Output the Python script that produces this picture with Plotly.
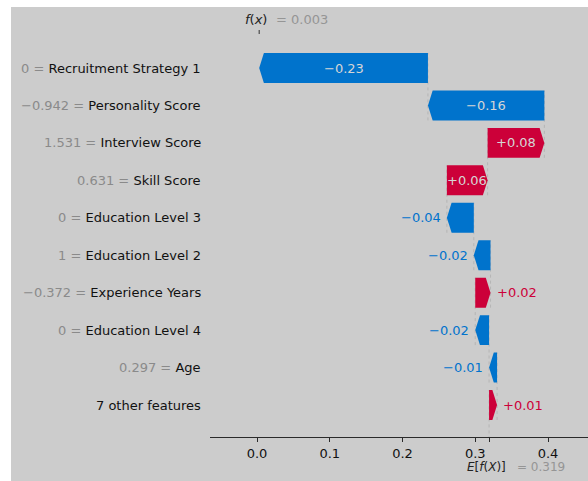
import plotly.graph_objects as go

# SHAP waterfall data (top row first)
features = ["Recruitment Strategy 1", "Personality Score", "Interview Score", "Skill Score",
            "Education Level 3", "Education Level 2", "Experience Years", "Education Level 4",
            "Age", "7 other features"]
feature_values = ["0", "\u22120.942", "1.531", "0.631", "0", "1", "\u22120.372", "0", "0.297", None]
shap_values = [-0.232, -0.160, 0.078, 0.056, -0.037, -0.023, 0.021, -0.019, -0.011, 0.011]
base_value = 0.319
x_ticks = [0.0, 0.1, 0.2, 0.3, 0.4]
x_tick_labels = ["0.0", "0.1", "0.2", "0.3", "0.4"]

W, H = 588, 481
L, R, T, B = 210, 0, 34, 44
PW, PH = W - L - R, H - T - B
PX_PER_UNIT = 727.5
X_RANGE = [-47 / PX_PER_UNIT, (PW - 47) / PX_PER_UNIT]
ROW_PX = 37.44
Y_RANGE = [-32 / ROW_PX, (len(features) - 1) + 34 / ROW_PX]

BLUE = "#0073cc"
RED = "#cc0039"
BG = "#cccccc"
FONT = "DejaVu Sans"
FS = 13

n = len(features)
rows = [n - 1 - i for i in range(n)]
fx = base_value + sum(shap_values)

# accumulate from the bottom row upwards, starting at the base value
starts = [0.0] * n
ends = [0.0] * n
loc = base_value
for i in reversed(range(n)):
    starts[i] = loc
    loc += shap_values[i]
    ends[i] = loc

fig = go.Figure()

bar_h = 0.8
head_len = 0.0065
for i in range(n):
    v = shap_values[i]
    s, e, y = starts[i], ends[i], rows[i]
    sign = 1 if v >= 0 else -1
    hl = min(abs(v), head_len)
    neck = e - sign * hl
    xs = [s, neck, e, neck, s, s]
    ys = [y - bar_h / 2, y - bar_h / 2, y, y + bar_h / 2, y + bar_h / 2, y - bar_h / 2]
    fig.add_trace(go.Scatter(x=xs, y=ys, mode="lines", fill="toself",
                             fillcolor=RED if v >= 0 else BLUE,
                             line=dict(width=0, color=RED if v >= 0 else BLUE),
                             hoverinfo="skip", showlegend=False))

# dashed connectors between consecutive bars
for i in range(n):
    fig.add_shape(type="line", xref="x", yref="y", x0=starts[i], x1=starts[i],
                  y0=rows[i] - 1 - 0.4, y1=rows[i] + 0.4,
                  line=dict(color="#a6a6a6", width=0.6, dash="dot"), layer="below")

# value labels on/next to the bars
for i in range(n):
    v = shap_values[i]
    txt = ("%+0.02f" % v).replace("-", "\u2212")
    bar_px = abs(v) * PX_PER_UNIT
    col = RED if v >= 0 else BLUE
    if bar_px > 40:
        fig.add_annotation(x=(starts[i] + ends[i]) / 2, y=rows[i], text=txt, showarrow=False,
                           xanchor="center", yanchor="middle",
                           font=dict(family=FONT, size=FS, color="#d6d6d6"))
    elif v < 0:
        fig.add_annotation(x=ends[i], y=rows[i], text=txt, showarrow=False,
                           xanchor="right", yanchor="middle", xshift=-4,
                           font=dict(family=FONT, size=FS, color=col))
    else:
        fig.add_annotation(x=ends[i], y=rows[i], text=txt, showarrow=False,
                           xanchor="left", yanchor="middle", xshift=4,
                           font=dict(family=FONT, size=FS, color=col))

# feature names with their values
for i in range(n):
    if feature_values[i] is None:
        label = features[i]
    else:
        label = "<span style='color:#8a8a8a'>%s = </span>%s" % (feature_values[i], features[i])
    fig.add_annotation(xref="paper", x=0, y=rows[i], text=label, showarrow=False,
                       xanchor="right", yanchor="middle", xshift=-7,
                       font=dict(family=FONT, size=FS, color="#111111"))

# f(x) marker at top
fig.add_shape(type="line", xref="x", yref="paper", x0=fx, x1=fx, y0=1.0, y1=1.0 + 4 / PH,
              line=dict(color="#333333", width=1))
fig.add_annotation(x=fx, xref="x", yref="paper", y=1 + 14 / PH, text="<i>f</i>(<i>x</i>)",
                   showarrow=False, xanchor="right", yanchor="middle", xshift=10,
                   font=dict(family=FONT, size=FS, color="#222222"))
fig.add_annotation(x=fx, xref="x", yref="paper", y=1 + 14 / PH,
                   text="= %0.03f" % fx, showarrow=False, xanchor="left", yanchor="middle",
                   xshift=15, font=dict(family=FONT, size=FS, color="#959595"))

# E[f(X)] label under the axis
fig.add_annotation(x=base_value, xref="x", yref="paper", y=-30 / PH,
                   text="<i>E</i>[<i>f</i>(<i>X</i>)]", showarrow=False,
                   xanchor="right", yanchor="middle", xshift=19,
                   font=dict(family=FONT, size=12, color="#222222"))
fig.add_annotation(x=base_value, xref="x", yref="paper", y=-30 / PH,
                   text="= %0.03f" % base_value, showarrow=False,
                   xanchor="left", yanchor="middle", xshift=26,
                   font=dict(family=FONT, size=12, color="#959595"))

# gray panel behind everything
fig.add_shape(type="rect", xref="paper", yref="paper",
              x0=(11 - L) / PW, x1=1.0, y0=-(B + 5) / PH, y1=1 + (T - 7) / PH,
              fillcolor=BG, line=dict(width=0), layer="below")

fig.update_layout(
    width=W, height=H,
    margin=dict(l=L, r=R, t=T, b=B, pad=0),
    paper_bgcolor="white", plot_bgcolor="rgba(0,0,0,0)",
    showlegend=False,
    xaxis=dict(range=X_RANGE, tickvals=x_ticks + [base_value], ticktext=x_tick_labels + [""],
               showgrid=False, zeroline=False, showline=True, linecolor="#2a2a2a", linewidth=1,
               ticks="outside", ticklen=4, tickcolor="#2a2a2a",
               tickfont=dict(family=FONT, size=FS, color="#111111")),
    yaxis=dict(range=Y_RANGE, showgrid=False, zeroline=False, showline=False,
               showticklabels=False, ticks=""),
)

fig.write_html("out.html")
